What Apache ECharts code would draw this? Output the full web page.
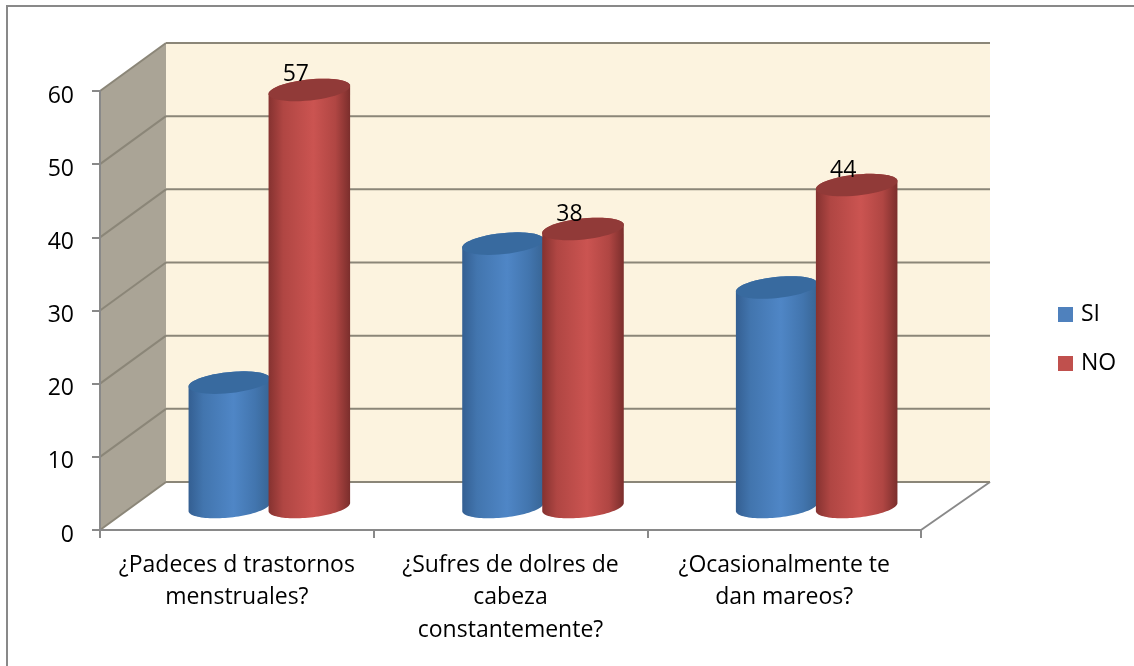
<!DOCTYPE html>
<html><head><meta charset="utf-8">
<style>html,body{margin:0;padding:0;background:#fff}#c{width:1134px;height:666px}</style>
<script src="https://cdn.jsdelivr.net/npm/echarts@6/dist/echarts.min.js"></script>
</head><body><div id="c"></div>
<script>
const categories = ['¿Padeces d trastornos\nmenstruales?', '¿Sufres de dolres de\ncabeza\nconstantemente?', '¿Ocasionalmente te\ndan mareos?'];
const siValues = [17, 36, 30];
const noValues = [57, 38, 44];
const yTicks = [0, 10, 20, 30, 40, 50, 60];

const DX_L = 66, DX_R = 69, DY = -48;
const MID_X = 32.5, MID_Y = -23;
const RX = 41, RY = 10.5, TILT = -6 * Math.PI / 180;
const AXIS = '#898989', GRID = '#8b8678';
const FONT = 'Open Sans', FS = 23;

function ell(cx, cy, t) {
  const a = RX * Math.cos(t), b = RY * Math.sin(t);
  return [cx + a * Math.cos(TILT) - b * Math.sin(TILT), cy + a * Math.sin(TILT) + b * Math.cos(TILT)];
}
function arc(cx, cy, from, to) {
  const pts = [];
  for (let i = 0; i <= 48; i++) pts.push(ell(cx, cy, from + (to - from) * i / 48));
  return pts;
}
function cylinder(side, stops, topColor) {
  return function (params, api) {
    const i = api.value(0), v = api.value(1);
    const top = api.coord([i, v]), base = api.coord([i, 0]);
    const cx = top[0] + MID_X + side * 40;
    const yTop = top[1] + MID_Y, yBase = base[1] + MID_Y;
    const body = arc(cx, yBase, 0, Math.PI).concat(arc(cx, yTop, Math.PI, 2 * Math.PI));
    const children = [
      { type: 'polygon', shape: { points: body }, style: {
        fill: new echarts.graphic.LinearGradient(0, 0, 1, 0, stops.map((c, k) => ({ offset: [0, .18, .55, .82, 1][k], color: c }))) } },
      { type: 'polygon', shape: { points: arc(cx, yTop, 0, 2 * Math.PI) }, style: { fill: topColor } }
    ];
    if (side > 0) children.push({ type: 'text', style: {
      text: String(v), x: cx - 13.5, y: yTop - 15, align: 'center', verticalAlign: 'middle',
      font: FS + 'px "' + FONT + '"', fill: '#000' } });
    return { type: 'group', children };
  };
}

const option = {
  animation: false,
  graphic: [
    { type: 'line', shape: { x1: 6, y1: 6, x2: 1134, y2: 6 }, style: { stroke: AXIS, lineWidth: 2 }, z: -1 },
    { type: 'line', shape: { x1: 7, y1: 6, x2: 7, y2: 666 }, style: { stroke: AXIS, lineWidth: 2 }, z: -1 }
  ],
  grid: { left: 100, top: 91, width: 821, height: 439 },
  legend: {
    orient: 'vertical', left: 1053, top: 298, itemWidth: 15, itemHeight: 15, itemGap: 26,
    data: ['SI', 'NO'], icon: 'rect',
    textStyle: { fontFamily: FONT, fontSize: FS, color: '#000', padding: [0, 0, 0, 3] }
  },
  xAxis: {
    type: 'category', data: categories, z: 5,
    axisLine: { lineStyle: { color: AXIS, width: 2 } },
    axisTick: { show: true, length: 8, lineStyle: { color: AXIS, width: 2 } },
    axisLabel: { fontFamily: FONT, fontSize: FS, color: '#000', lineHeight: 32.5, margin: 19, interval: 0 }
  },
  yAxis: {
    type: 'value', min: 0, max: 60, interval: 10, z: 5,
    axisLine: { show: true, lineStyle: { color: AXIS, width: 2 } },
    axisTick: { show: true, length: 8, lineStyle: { color: AXIS, width: 2 } },
    axisLabel: { fontFamily: FONT, fontSize: FS, color: '#000', margin: 26, verticalAlign: 'top', lineHeight: 10 },
    splitLine: { show: false }
  },
  series: [
    { type: 'custom', silent: true, z: 1, data: [[0, 0]], renderItem(p) {
        const g = p.coordSys, b = g.y + g.height, t = g.y, l = g.x, r = g.x + g.width;
        return { type: 'group', children: [
          { type: 'polygon', shape: { points: [[l + DX_L, t + DY], [r + DX_R, t + DY], [r + DX_R, b + DY], [l + DX_L, b + DY]] }, style: { fill: '#fcf3df' } },
          { type: 'polygon', shape: { points: [[l, t], [l + DX_L, t + DY], [l + DX_L, b + DY], [l, b]] }, style: { fill: '#aaa496' } },
          { type: 'line', shape: { x1: r, y1: b, x2: r + DX_R, y2: b + DY }, style: { stroke: AXIS, lineWidth: 2 } }
        ] };
      } },
    { type: 'custom', silent: true, z: 1, data: yTicks.map(t => [0, t]), renderItem(p, api) {
        const g = p.coordSys, y = api.coord([0, api.value(1)])[1], l = g.x, r = g.x + g.width;
        return { type: 'group', children: [
          { type: 'line', shape: { x1: l, y1: y, x2: l + DX_L, y2: y + DY }, style: { stroke: GRID, lineWidth: 2 } },
          { type: 'line', shape: { x1: l + DX_L, y1: y + DY, x2: r + DX_R, y2: y + DY }, style: { stroke: GRID, lineWidth: 2 } }
        ] };
      } },
    { name: 'SI', type: 'custom', z: 2, itemStyle: { color: '#4f81bd' }, data: siValues.map((v, i) => [i, v]),
      renderItem: cylinder(-1, ['#345f92', '#4275ae', '#4f86c6', '#4275ae', '#386595'], '#386a9f') },
    { name: 'NO', type: 'custom', z: 3, itemStyle: { color: '#c0504d' }, data: noValues.map((v, i) => [i, v]),
      renderItem: cylinder(1, ['#853230', '#b04643', '#cb5451', '#b04643', '#7b2e2c'], '#913a38') }
  ]
};
echarts.init(document.getElementById('c')).setOption(option);
</script></body></html>
